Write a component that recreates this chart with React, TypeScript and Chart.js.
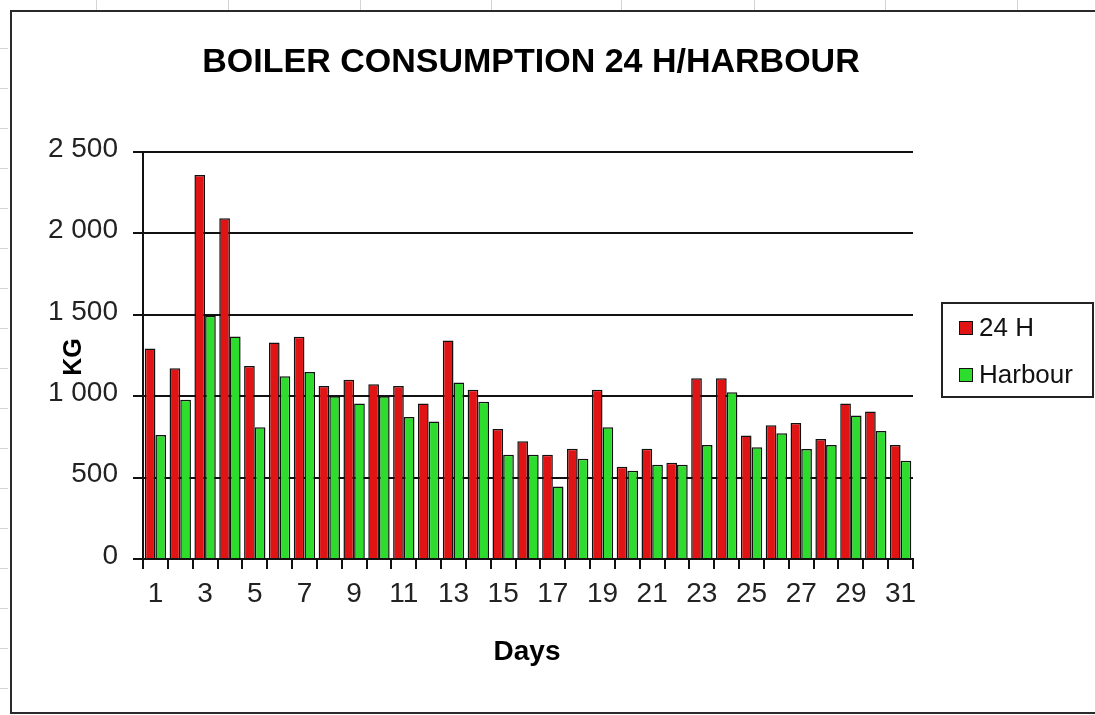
import React, { useEffect, useRef } from "react";
import { Chart, registerables } from "chart.js";

Chart.register(...registerables);

const TITLE = "BOILER CONSUMPTION 24 H/HARBOUR";
const X_TITLE = "Days";
const Y_TITLE = "KG";

const categories = [
  "1", "2", "3", "4", "5", "6", "7", "8", "9", "10",
  "11", "12", "13", "14", "15", "16", "17", "18", "19", "20",
  "21", "22", "23", "24", "25", "26", "27", "28", "29", "30", "31",
];

const series24H = [
  1293, 1172, 2359, 2093, 1185, 1330, 1365, 1062, 1101, 1074,
  1062, 955, 1342, 1039, 798, 724, 640, 677, 1039, 567,
  677, 591, 1111, 1111, 759, 822, 835, 737, 955, 906, 700,
];

const seriesHarbour = [
  761, 978, 1494, 1367, 810, 1123, 1148, 1000, 955, 1000,
  872, 845, 1084, 966, 640, 640, 446, 616, 810, 542,
  579, 579, 700, 1025, 687, 773, 675, 700, 882, 786, 604,
];

const seriesNames = ["24 H", "Harbour"];
const seriesColors = ["#E01414", "#2EDC2E"];

const Y_MIN = 0;
const Y_MAX = 2500;
const Y_STEP = 500;

const FONT = '"Liberation Sans", Arial, Helvetica, sans-serif';

const fmt = (v: number) =>
  String(v).replace(/\B(?=(\d{3})+(?!\d))/g, " ");

const decorPlugin = {
  id: "decor",
  beforeDraw(chart: any) {
    const ctx = chart.ctx;
    ctx.save();
    ctx.fillStyle = "#ffffff";
    ctx.fillRect(0, 0, chart.width, chart.height);
    // faint spreadsheet cell marks
    ctx.strokeStyle = "#d4d4d4";
    ctx.lineWidth = 1;
    const topMarks = [96, 228, 360, 491, 621, 754, 885, 1017];
    topMarks.forEach((x) => {
      ctx.beginPath();
      ctx.moveTo(x + 0.5, 0);
      ctx.lineTo(x + 0.5, 10);
      ctx.stroke();
    });
    for (let y = 48; y < 700; y += 40) {
      ctx.beginPath();
      ctx.moveTo(0, y + 0.5);
      ctx.lineTo(8, y + 0.5);
      ctx.stroke();
    }
    ctx.restore();
  },
  afterDraw(chart: any) {
    const ctx = chart.ctx;
    ctx.save();
    // outer frame
    ctx.strokeStyle = "#2a2a2a";
    ctx.lineWidth = 2;
    ctx.strokeRect(11, 11, 1100, 702);

    // title
    ctx.fillStyle = "#000";
    ctx.textAlign = "center";
    ctx.textBaseline = "alphabetic";
    ctx.font = `bold 34px ${FONT}`;
    ctx.fillText(TITLE, 531, 72);

    // x title
    ctx.font = `bold 28px ${FONT}`;
    ctx.fillText(X_TITLE, 527, 660);

    // y title
    ctx.save();
    ctx.translate(81, 357);
    ctx.rotate(-Math.PI / 2);
    ctx.font = `bold 25px ${FONT}`;
    ctx.textAlign = "center";
    ctx.textBaseline = "alphabetic";
    ctx.fillText(Y_TITLE, 0, 0);
    ctx.restore();

    // legend
    ctx.strokeStyle = "#222";
    ctx.lineWidth = 2;
    ctx.strokeRect(942, 303, 151, 94);
    const rows = [328, 375];
    chart.data.datasets.forEach((ds: any, i: number) => {
      const cy = rows[i];
      ctx.fillStyle = ds.backgroundColor;
      ctx.fillRect(959, cy - 7, 14, 14);
      ctx.lineWidth = 1;
      ctx.strokeStyle = "#111";
      ctx.strokeRect(959.5, cy - 6.5, 13, 13);
      ctx.fillStyle = "#111";
      ctx.font = `26px ${FONT}`;
      ctx.textAlign = "left";
      ctx.textBaseline = "middle";
      ctx.fillText(ds.label, 979, cy + 1);
    });
    ctx.restore();
  },
};

export default function App() {
  const ref = useRef<HTMLCanvasElement | null>(null);

  useEffect(() => {
    if (!ref.current) return;
    const chart = new Chart(ref.current, {
      type: "bar",
      data: {
        labels: categories,
        datasets: [
          {
            label: seriesNames[0],
            data: series24H,
            backgroundColor: seriesColors[0],
            borderColor: "#111",
            borderWidth: 1.5,
            categoryPercentage: 0.86,
            barPercentage: 1.0,
          },
          {
            label: seriesNames[1],
            data: seriesHarbour,
            backgroundColor: seriesColors[1],
            borderColor: "#111",
            borderWidth: 1.5,
            categoryPercentage: 0.86,
            barPercentage: 1.0,
          },
        ],
      },
      options: {
        responsive: false,
        animation: false,
        events: [],
        layout: { padding: { top: 152, right: 182, left: 0, bottom: 0 } },
        plugins: {
          legend: { display: false },
          title: { display: false },
          tooltip: { enabled: false },
        },
        scales: {
          x: {
            type: "category",
            offset: true,
            grid: {
              display: true,
              offset: true,
              drawOnChartArea: false,
              drawTicks: true,
              tickLength: 10,
              color: "#111",
              lineWidth: 2,
            },
            border: { display: true, color: "#111", width: 2 },
            ticks: {
              autoSkip: false,
              maxRotation: 0,
              minRotation: 0,
              padding: 8,
              color: "#222",
              font: { family: FONT, size: 28 },
              callback: (_v: any, i: number) => (i % 2 === 0 ? categories[i] : ""),
            },
            afterFit: (s: any) => {
              s.height = 156;
            },
          },
          y: {
            min: Y_MIN,
            max: Y_MAX,
            ticks: {
              stepSize: Y_STEP,
              padding: 15,
              labelOffset: -3,
              color: "#222",
              font: { family: FONT, size: 28 },
              callback: (v: any) => fmt(Number(v)),
            },
            grid: { color: "#111", lineWidth: 2, tickLength: 10 },
            border: { display: true, color: "#111", width: 2 },
            afterFit: (s: any) => {
              s.width = 143;
            },
          },
        },
      },
      plugins: [decorPlugin],
    });
    return () => chart.destroy();
  }, []);

  return (
    <div
      style={{
        position: "fixed",
        left: 0,
        top: 0,
        width: 1095,
        height: 715,
        background: "#fff",
      }}
    >
      <canvas ref={ref} width={1095} height={715} style={{ display: "block" }} />
    </div>
  );
}
